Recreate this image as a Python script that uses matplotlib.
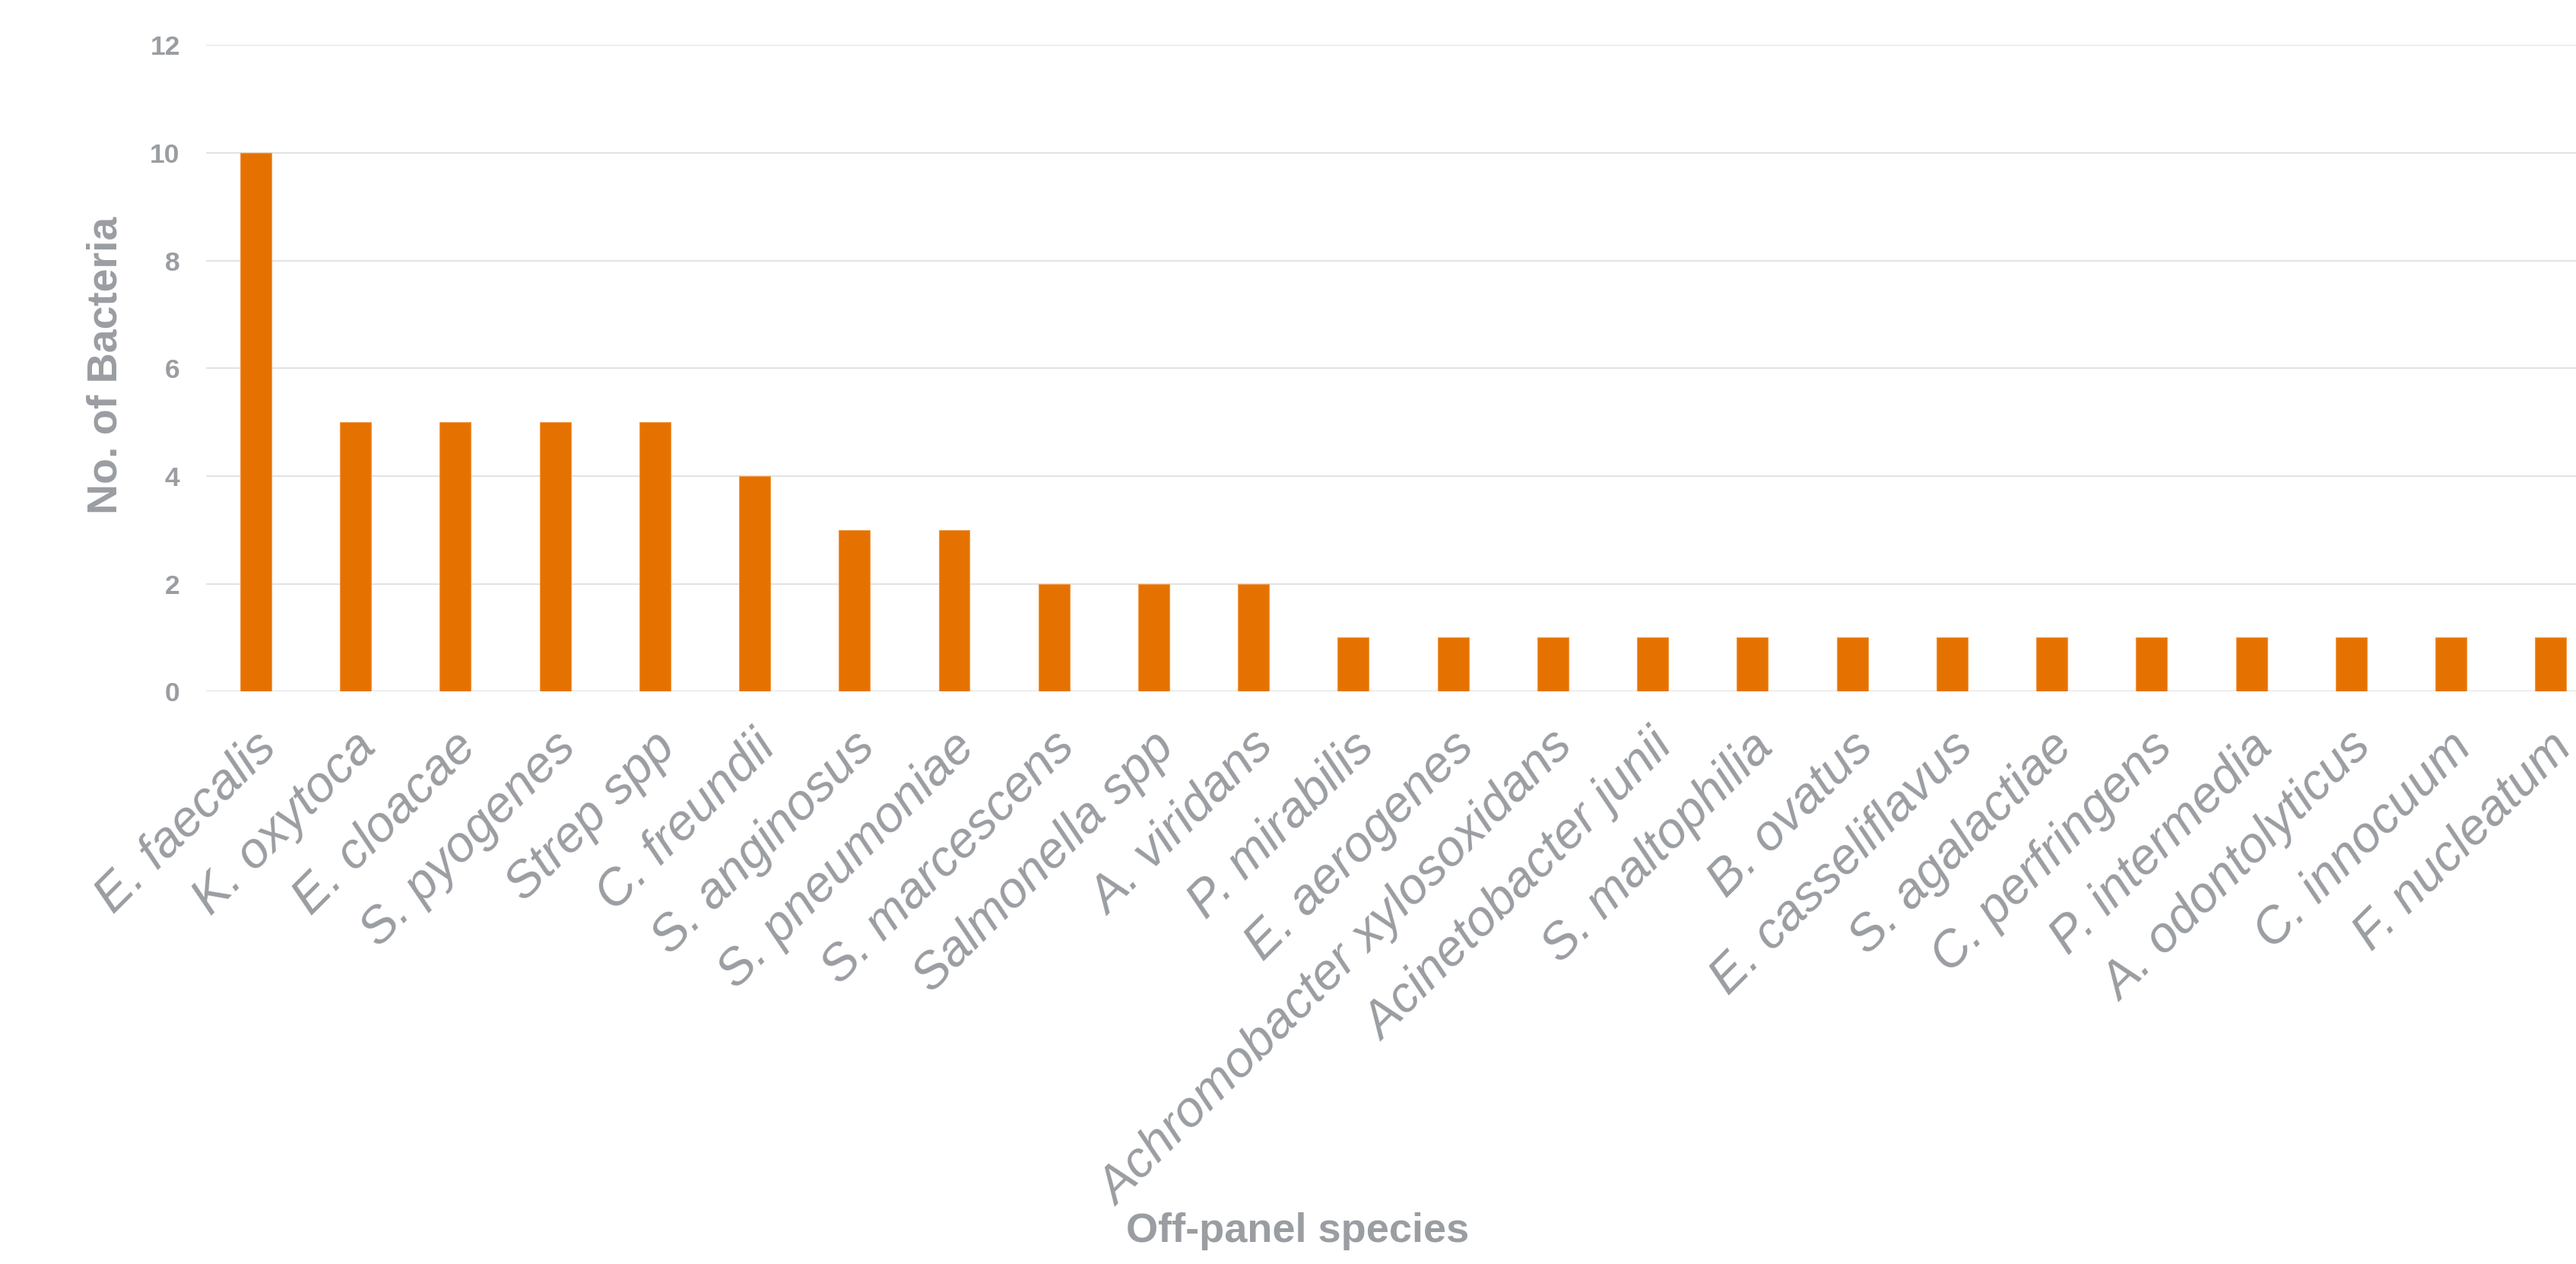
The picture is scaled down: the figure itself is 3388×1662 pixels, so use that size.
import matplotlib
matplotlib.use("Agg")
import matplotlib.pyplot as plt
import matplotlib.transforms as mtransforms

species = ["E. faecalis", "K. oxytoca", "E. cloacae", "S. pyogenes", "Strep spp",
           "C. freundii", "S. anginosus", "S. pneumoniae", "S. marcescens",
           "Salmonella spp", "A. viridans", "P. mirabilis", "E. aerogenes",
           "Achromobacter xylosoxidans", "Acinetobacter junii", "S. maltophilia",
           "B. ovatus", "E. casseliflavus", "S. agalactiae", "C. perfringens",
           "P. intermedia", "A. odontolyticus", "C. innocuum", "F. nucleatum"]
counts = [10, 5, 5, 5, 5, 4, 3, 3, 2, 2, 2, 1, 1, 1, 1, 1, 1, 1, 1, 1, 1, 1, 1, 1]
yticks = [0, 2, 4, 6, 8, 10, 12]
ylabel = "No. of Bacteria"
xlabel = "Off-panel species"

W, H = 3388, 1662
DPI = 100
TXT = "#9A9DA1"
BAR = "#E57200"

plt.rcParams['font.family'] = ['Liberation Sans', 'DejaVu Sans']

fig = plt.figure(figsize=(W / DPI, H / DPI), dpi=DPI)
fig.patch.set_facecolor("white")

left_px, right_px = 270.7, 3420.4
top_px, bot_px = 59.3, 909.3
ax = fig.add_axes([left_px / W, 1 - bot_px / H, (right_px - left_px) / W, (bot_px - top_px) / H])

x = list(range(len(species)))
ax.bar(x, counts, width=0.312, color=BAR, edgecolor="#F29A4A", linewidth=0.8, zorder=3)

ax.set_xlim(-0.5, len(species) - 0.5)
ax.set_ylim(0, 12)
ax.set_yticks(yticks)
ax.set_yticklabels([str(v) for v in yticks], fontsize=25.5, fontweight='bold', color=TXT)
ax.tick_params(axis='y', length=0, pad=24.5)

ax.set_xticks(x)
ax.set_xticklabels(species, rotation=45, ha='right', va='center', rotation_mode='anchor',
                   fontsize=48, fontstyle='italic', color=TXT)
ax.tick_params(axis='x', length=0, pad=46)
offset = mtransforms.ScaledTranslation(17.6 / DPI, 0, fig.dpi_scale_trans)
for lbl in ax.get_xticklabels():
    lbl.set_transform(lbl.get_transform() + offset)

ax.grid(axis='y', color="#E3E3E3", linewidth=1.5, zorder=0)
ax.set_axisbelow(True)
for s in ax.spines.values():
    s.set_visible(False)

fig.text(139 / W, 1 - 480 / H, ylabel, rotation=90, ha='center', va='center',
         fontsize=40, fontweight='bold', color=TXT)
fig.text(1707 / W, 1 - 1633 / H, xlabel, ha='center', va='baseline',
         fontsize=39, fontweight='bold', color=TXT)

fig.savefig("out.png", dpi=DPI, facecolor="white")
